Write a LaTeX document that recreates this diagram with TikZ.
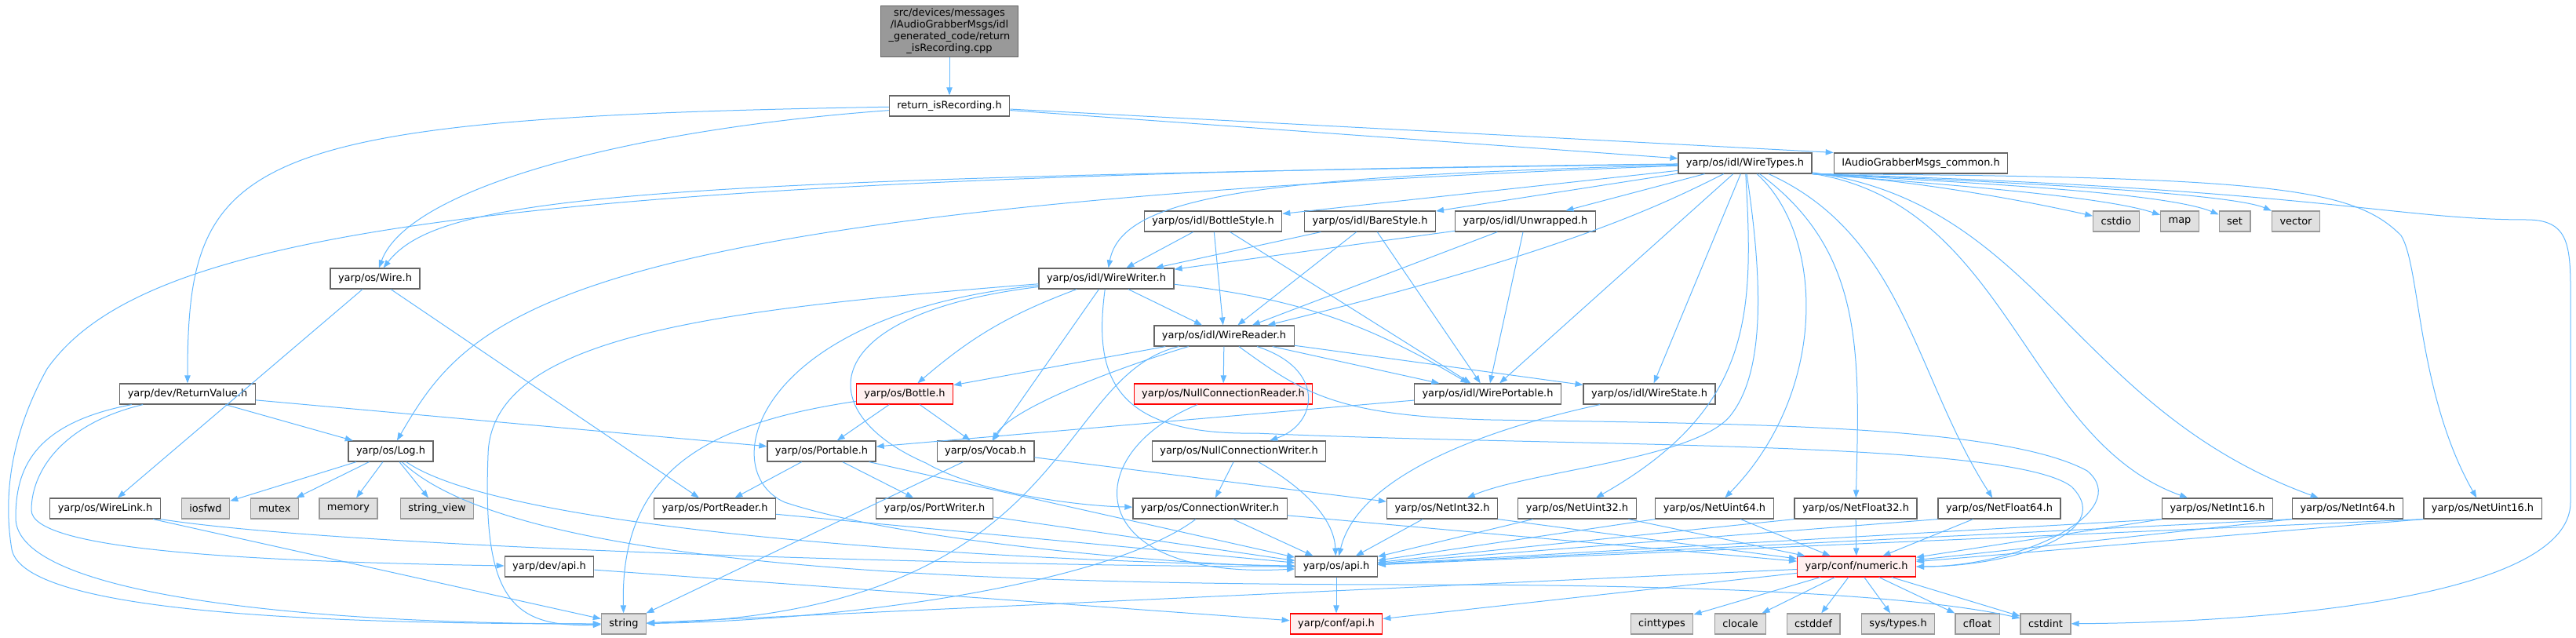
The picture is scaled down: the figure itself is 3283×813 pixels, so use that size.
\documentclass[tikz,border=0pt]{standalone}
\usepackage{fontspec}
\setmainfont{DejaVu Sans}
\usetikzlibrary{arrows.meta}

\definecolor{edgeblue}{HTML}{63B8FF}
\definecolor{boxgrey}{HTML}{666666}
\definecolor{sysgrey}{HTML}{999999}
\definecolor{sysfill}{HTML}{E0E0E0}
\definecolor{redfill}{HTML}{FFF0F0}
\definecolor{mainfill}{HTML}{999999}

\tikzset{
  hdr/.style={draw=boxgrey, fill=white, line width=0.9pt, minimum height=19.5pt,
    inner xsep=7.5pt, inner ysep=0pt, font=\fontsize{9.7}{11}\selectfont},
  sys/.style={hdr, draw=sysgrey, fill=sysfill},
  trunc/.style={hdr, draw=red, fill=redfill},
  mainfile/.style={hdr, fill=mainfill, align=center, inner ysep=3pt,
    font=\fontsize{9.7}{11.2}\selectfont},
  inc/.style={edgeblue, line width=0.75pt, -{Triangle[length=7.5pt,width=5.5pt]}}
}

\begin{document}
\begin{tikzpicture}[x=0.75pt,y=-0.75pt]
\useasboundingbox (0,0) rectangle (3283,813);

\node[mainfile] (main) at (1210,40) {src/devices/messages\\/IAudioGrabberMsgs/idl\\\_generated\_code/return\\\_isRecording.cpp};
\node[hdr] (ret) at (1210,135) {return\_isRecording.h};
\node[hdr] (wtypes) at (2224,208) {yarp/os/idl/WireTypes.h};
\node[hdr] (common) at (2448,208) {IAudioGrabberMsgs\_common.h};

\node[hdr] (bstyle) at (1546,282) {yarp/os/idl/BottleStyle.h};
\node[hdr] (bare) at (1746,282) {yarp/os/idl/BareStyle.h};
\node[hdr] (unwr) at (1944,282) {yarp/os/idl/Unwrapped.h};
\node[sys] (cstdio) at (2697,282) {cstdio};
\node[sys] (map) at (2778,282) {map};
\node[sys] (set) at (2848,282) {set};
\node[sys] (vector) at (2926,282) {vector};

\node[hdr] (wire) at (478,355) {yarp/os/Wire.h};
\node[hdr] (wwriter) at (1410,355) {yarp/os/idl/WireWriter.h};
\node[hdr] (wreader) at (1560,428) {yarp/os/idl/WireReader.h};

\node[hdr] (retval) at (239,502) {yarp/dev/ReturnValue.h};
\node[trunc] (bottle) at (1153,502) {yarp/os/Bottle.h};
\node[trunc] (ncreader) at (1559,502) {yarp/os/NullConnectionReader.h};
\node[hdr] (wport) at (1896,502) {yarp/os/idl/WirePortable.h};
\node[hdr] (wstate) at (2102,502) {yarp/os/idl/WireState.h};

\node[hdr] (log) at (498,575) {yarp/os/Log.h};
\node[hdr] (portable) at (1047,575) {yarp/os/Portable.h};
\node[hdr] (vocab) at (1256,575) {yarp/os/Vocab.h};
\node[hdr] (ncwriter) at (1579,575) {yarp/os/NullConnectionWriter.h};

\node[hdr] (wlink) at (134,648) {yarp/os/WireLink.h};
\node[sys] (iosfwd) at (262,648) {iosfwd};
\node[sys] (mutex) at (350,648) {mutex};
\node[sys] (memory) at (444,648) {memory};
\node[sys] (strview) at (557,648) {string\_view};
\node[hdr] (preader) at (911,648) {yarp/os/PortReader.h};
\node[hdr] (pwriter) at (1191,648) {yarp/os/PortWriter.h};
\node[hdr] (cwriter) at (1542,648) {yarp/os/ConnectionWriter.h};
\node[hdr] (ni32) at (1838,648) {yarp/os/NetInt32.h};
\node[hdr] (nu32) at (2010,648) {yarp/os/NetUint32.h};
\node[hdr] (nu64) at (2185,648) {yarp/os/NetUint64.h};
\node[hdr] (nf32) at (2365,648) {yarp/os/NetFloat32.h};
\node[hdr] (nf64) at (2548,648) {yarp/os/NetFloat64.h};
\node[hdr] (ni16) at (2826,648) {yarp/os/NetInt16.h};
\node[hdr] (ni64) at (2992,648) {yarp/os/NetInt64.h};
\node[hdr] (nu16) at (3164,648) {yarp/os/NetUint16.h};

\node[hdr] (devapi) at (700,722) {yarp/dev/api.h};
\node[hdr] (osapi) at (1703,722) {yarp/os/api.h};
\node[trunc] (numeric) at (2366,722) {yarp/conf/numeric.h};

\node[sys] (string) at (795,795) {string};
\node[trunc] (confapi) at (1703,795) {yarp/conf/api.h};
\node[sys] (cinttypes) at (2118,795) {cinttypes};
\node[sys] (clocale) at (2218,795) {clocale};
\node[sys] (cstddef) at (2311,795) {cstddef};
\node[sys] (systypes) at (2419,795) {sys/types.h};
\node[sys] (cfloat) at (2520,795) {cfloat};
\node[sys] (cstdint) at (2607,795) {cstdint};

% top of the graph
\draw[inc] (main) -- (ret);
\draw[inc] (ret) -- (wtypes);
\draw[inc] (ret) -- (common.north west);
\draw[inc] (ret) .. controls (800,165) and (520,240) .. (wire);
\draw[inc] (ret) .. controls (300,150) and (239,200) .. (retval);

% WireTypes.h
\draw[inc] (wtypes) .. controls (800,228) and (560,250) .. (wire);
\draw[inc] (wtypes) .. controls (600,226) and (180,300) .. (60,470) .. controls (10,560) and (5,640) .. (15,700) .. controls (30,780) and (400,795) .. (string);
\draw[inc] (wtypes) .. controls (700,265) and (600,400) .. (log);
\draw[inc] (wtypes) .. controls (1600,225) and (1430,250) .. (wwriter);
\draw[inc] (wtypes) -- (bstyle);
\draw[inc] (wtypes) -- (bare);
\draw[inc] (wtypes) -- (unwr);
\draw[inc] (wtypes) .. controls (2120,260) and (2000,320) .. (wreader);
\draw[inc] (wtypes) -- (wport);
\draw[inc] (wtypes) -- (wstate);
\draw[inc] (wtypes) .. controls (2250,380) and (2245,480) .. (2205,530) .. controls (2160,585) and (1950,600) .. (ni32);
\draw[inc] (wtypes) .. controls (2235,400) and (2235,520) .. (nu32);
\draw[inc] (wtypes) .. controls (2326,300) and (2330,500) .. (nu64);
\draw[inc] (wtypes) .. controls (2376,320) and (2370,450) .. (nf32);
\draw[inc] (wtypes) .. controls (2427,300) and (2440,480) .. (nf64);
\draw[inc] (wtypes) .. controls (2560,260) and (2580,560) .. (ni16);
\draw[inc] (wtypes) .. controls (2600,260) and (2640,520) .. (ni64);
\draw[inc] (wtypes.south east) .. controls (2900,225) and (3000,240) .. (3060,300) .. controls (3085,340) and (3080,500) .. (nu16);
\draw[inc] (wtypes.south east) .. controls (2450,230) and (2600,260) .. (cstdio);
\draw[inc] (wtypes.south east) .. controls (2480,235) and (2680,250) .. (map);
\draw[inc] (wtypes.south east) .. controls (2500,232) and (2760,245) .. (set);
\draw[inc] (wtypes.south east) .. controls (2520,230) and (2840,245) .. (vector);
\draw[inc] (wtypes.south east) .. controls (2950,240) and (3050,280) .. (3220,280) .. controls (3280,280) and (3276,320) .. (3276,400) -- (3276,640) .. controls (3276,760) and (2900,793) .. (cstdint);

% Wire.h and ReturnValue.h
\draw[inc] (wire) -- (wlink);
\draw[inc] (wire) -- (preader);
\draw[inc] (retval) -- (log);
\draw[inc] (retval) -- (portable);
\draw[inc] (retval) .. controls (40,540) and (20,600) .. (20,660) .. controls (20,760) and (400,795) .. (string);
\draw[inc] (retval) .. controls (80,540) and (40,600) .. (40,650) .. controls (40,700) and (300,715) .. (devapi);

% idl styles
\draw[inc] (bstyle) -- (wwriter);
\draw[inc] (bstyle) -- (wreader);
\draw[inc] (bstyle) -- (wport);
\draw[inc] (bare) -- (wwriter);
\draw[inc] (bare) -- (wreader);
\draw[inc] (bare) -- (wport);
\draw[inc] (unwr) -- (wwriter);
\draw[inc] (unwr) -- (wreader);
\draw[inc] (unwr) -- (wport);

% WireWriter.h
\draw[inc] (wwriter) -- (wreader);
\draw[inc] (wwriter) to[bend left=12] (wport);
\draw[inc] (wwriter) to[bend right=10] (bottle);
\draw[inc] (wwriter) -- (vocab);
\draw[inc] (wwriter) .. controls (900,395) and (625,430) .. (622,580) .. controls (615,760) and (650,800) .. (string);
\draw[inc] (wwriter) .. controls (960,400) and (910,600) .. (1000,640) .. controls (1150,690) and (1500,720) .. (osapi);
\draw[inc] (wwriter) .. controls (1040,400) and (1030,525) .. (1180,590) .. controls (1250,630) and (1380,645) .. (cwriter);
\draw[inc] (wwriter) .. controls (1395,470) and (1410,555) .. (1600,552) .. controls (2000,570) and (2560,560) .. (2640,620) .. controls (2700,680) and (2560,722) .. (numeric);

% WireReader.h
\draw[inc] (wreader) -- (bottle);
\draw[inc] (wreader) .. controls (1420,470) and (1290,520) .. (vocab);
\draw[inc] (wreader) -- (ncreader);
\draw[inc] (wreader) -- (wport);
\draw[inc] (wreader) -- (wstate);
\draw[inc] (wreader) .. controls (1690,470) and (1680,540) .. (ncwriter);
\draw[inc] (wreader) .. controls (1340,480) and (1370,780) .. (string);
\draw[inc] (wreader) .. controls (1660,500) and (1700,530) .. (1900,535) .. controls (2200,540) and (2550,540) .. (2660,600) .. controls (2720,650) and (2580,722) .. (numeric);

% middle rows
\draw[inc] (bottle) -- (portable);
\draw[inc] (bottle) -- (vocab);
\draw[inc] (bottle) .. controls (900,540) and (790,600) .. (string);
\draw[inc] (wport) -- (portable);
\draw[inc] (wstate) .. controls (1880,550) and (1730,610) .. (osapi);
\draw[inc] (ncreader) .. controls (1370,580) and (1380,740) .. (osapi);
\draw[inc] (log) -- (iosfwd);
\draw[inc] (log) -- (mutex);
\draw[inc] (log) -- (memory);
\draw[inc] (log) -- (strview);
\draw[inc] (log) .. controls (650,680) and (1300,715) .. (osapi);
\draw[inc] (log) .. controls (650,720) and (1200,745) .. (1800,745) .. controls (2200,745) and (2450,760) .. (cstdint);
\draw[inc] (portable) -- (preader);
\draw[inc] (portable) -- (pwriter);
\draw[inc] (portable) -- (osapi);
\draw[inc] (vocab) -- (string);
\draw[inc] (vocab) -- (ni32);
\draw[inc] (ncwriter) -- (cwriter);
\draw[inc] (ncwriter) .. controls (1660,620) and (1700,660) .. (osapi);

% lower rows
\draw[inc] (wlink) -- (string);
\draw[inc] (wlink.south east) .. controls (450,700) and (1300,722) .. (osapi);
\draw[inc] (preader) -- (osapi);
\draw[inc] (pwriter) -- (osapi);
\draw[inc] (cwriter) -- (osapi);
\draw[inc] (cwriter) -- (numeric);
\draw[inc] (cwriter) .. controls (1420,740) and (1100,790) .. (string);
\draw[inc] (ni32) -- (osapi);
\draw[inc] (ni32.south east) -- (numeric);
\draw[inc] (nu32) -- (osapi);
\draw[inc] (nu32) -- (numeric);
\draw[inc] (nu64.south west) -- (osapi);
\draw[inc] (nu64) -- (numeric);
\draw[inc] (nf32.south west) -- (osapi);
\draw[inc] (nf32) -- (numeric);
\draw[inc] (nf64.south west) -- (osapi);
\draw[inc] (nf64) -- (numeric);
\draw[inc] (ni16.south west) -- (osapi);
\draw[inc] (ni16.south west) -- (numeric);
\draw[inc] (ni64.south west) -- (osapi);
\draw[inc] (ni64.south west) -- (numeric);
\draw[inc] (nu16.south west) -- (osapi);
\draw[inc] (nu16.south west) -- (numeric);
\draw[inc] (devapi) -- (confapi);
\draw[inc] (osapi) -- (confapi);
\draw[inc] (numeric) -- (confapi);
\draw[inc] (numeric) -- (string);
\draw[inc] (numeric) -- (cinttypes);
\draw[inc] (numeric) -- (clocale);
\draw[inc] (numeric) -- (cstddef);
\draw[inc] (numeric) -- (systypes);
\draw[inc] (numeric) -- (cfloat);
\draw[inc] (numeric) -- (cstdint);

\end{tikzpicture}
\end{document}
